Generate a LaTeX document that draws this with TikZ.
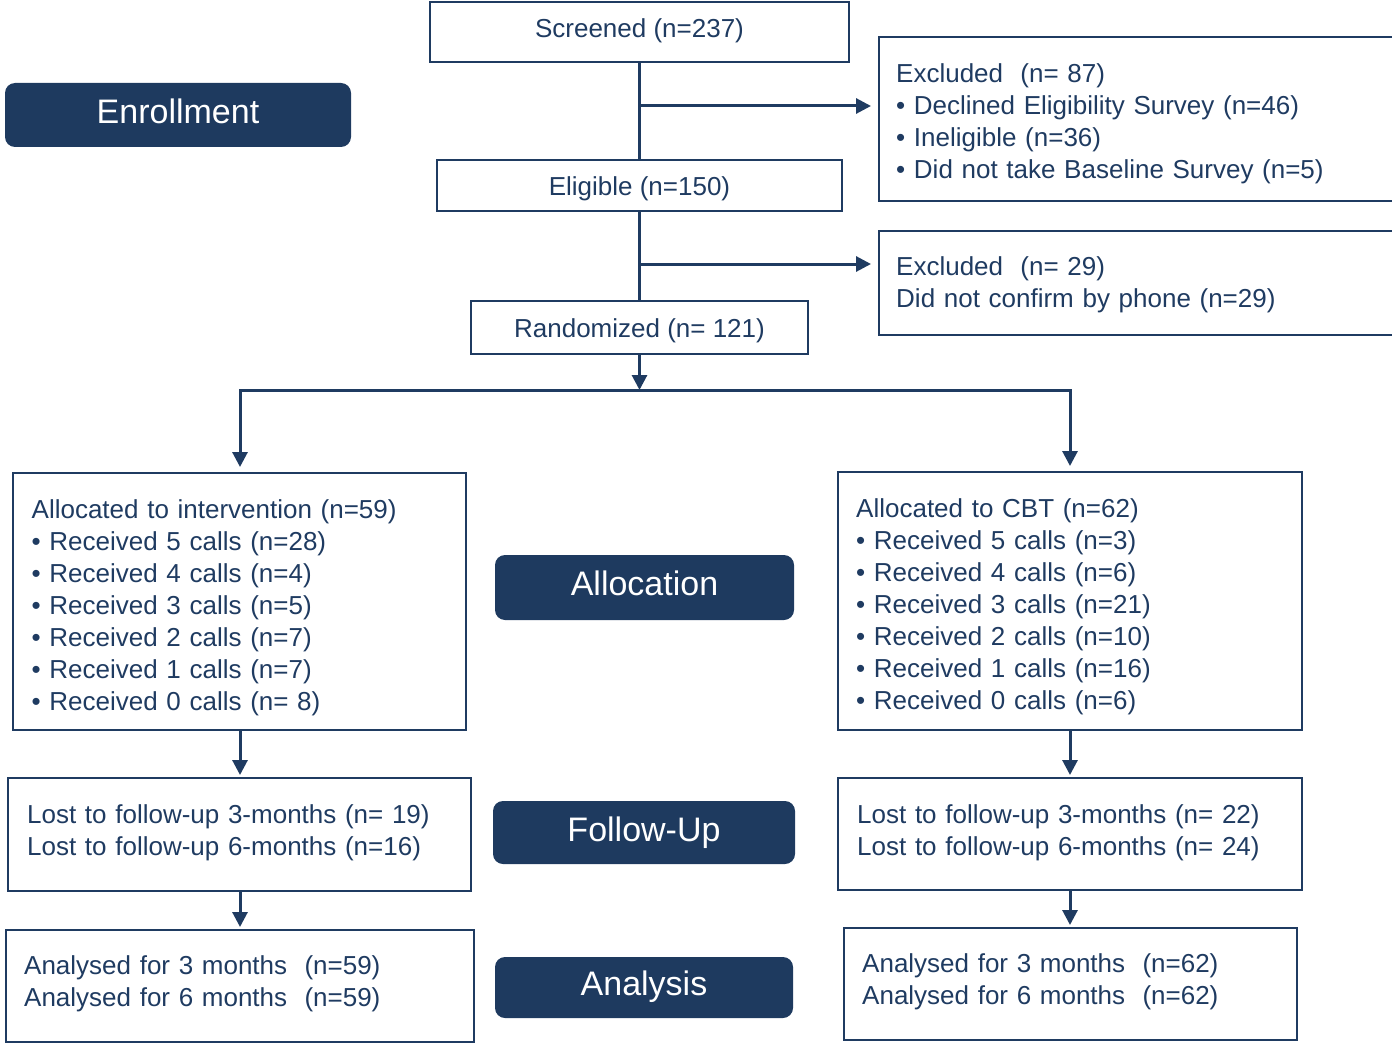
\documentclass[tikz,border=0pt]{standalone}
\usepackage{fontspec}
\setmainfont{Liberation Sans}
\usetikzlibrary{arrows.meta}
\definecolor{navy}{HTML}{1F3B61}
\definecolor{phasefill}{HTML}{1E3A5F}
\begin{document}
\begin{tikzpicture}[x=1pt,y=-1pt,
  frame/.style={draw=navy,line width=2pt,inner sep=0pt},
  txt/.style={text=navy,font=\fontsize{26}{32}\selectfont,align=left,inner sep=0pt},
  ltxt/.style={txt,anchor=west,text width=480pt},
  phase/.style={fill=phasefill,draw=none,rounded corners=10pt,text=white,
    font=\fontsize{34}{40}\selectfont,inner sep=0pt},
  ln/.style={draw=navy,line width=3pt},
  tip/.tip={Triangle[length=15pt,width=15pt]},
  arr/.style={ln,-tip},
]
\useasboundingbox (0,0) rectangle (1392,1043);

% phase labels
\node[phase,minimum width=346pt,minimum height=64pt] (enr) at (178,115)
  {\raisebox{3.5pt}[\height][\depth]{Enrollment}};
\node[phase,minimum width=299pt,minimum height=65pt] (alp) at (644.5,587.5)
  {\raisebox{3.8pt}[\height][\depth]{Allocation}};
\node[phase,minimum width=302pt,minimum height=63pt] (fup) at (644,832.5) {Follow-Up};
\node[phase,minimum width=298pt,minimum height=61pt] (anp) at (644,987.5)
  {\raisebox{1pt}[\height][\depth]{Analysis}};

% enrollment column
\node[frame,minimum width=419pt,minimum height=60pt] (scr) at (639.5,32) {};
\node[txt,yshift=1pt] (scr-t) at (scr.center) {Screened (n=237)};
\node[frame,minimum width=405pt,minimum height=51pt] (elig) at (639.5,185.5) {};
\node[txt,yshift=-3pt] (elig-t) at (elig.center) {Eligible (n=150)};
\node[frame,minimum width=337pt,minimum height=53pt] (rand) at (639.5,327.5) {};
\node[txt,yshift=-3.5pt] (rand-t) at (rand.center) {Randomized (n=~121)};

\node[frame,minimum width=540pt,minimum height=164pt] (exa) at (1149,119) {};
\node[ltxt,xshift=18pt,yshift=-4.5pt] (exa-t) at (exa.west)
  {Excluded\ \ (n=~87)\\
   • Declined Eligibility Survey (n=46)\\
   • Ineligible (n=36)\\
   • Did not take Baseline Survey (n=5)};
\node[frame,minimum width=540pt,minimum height=104pt] (exb) at (1149,283) {};
\node[ltxt,xshift=18pt,yshift=-2pt] (exb-t) at (exb.west)
  {Excluded\ \ (n=~29)\\
   Did not confirm by phone (n=29)};

% allocation
\node[frame,minimum width=453pt,minimum height=257pt] (allL) at (239.5,601.5) {};
\node[ltxt,xshift=19.5pt,yshift=-6pt] (allL-t) at (allL.west)
  {Allocated to intervention (n=59)\\
   • Received 5 calls (n=28)\\
   • Received 4 calls (n=4)\\
   • Received 3 calls (n=5)\\
   • Received 2 calls (n=7)\\
   • Received 1 calls (n=7)\\
   • Received 0 calls (n=~8)};
\node[frame,minimum width=464pt,minimum height=258pt] (allR) at (1070,601) {};
\node[ltxt,xshift=19pt,yshift=-5.5pt] (allR-t) at (allR.west)
  {Allocated to CBT (n=62)\\
   • Received 5 calls (n=3)\\
   • Received 4 calls (n=6)\\
   • Received 3 calls (n=21)\\
   • Received 2 calls (n=10)\\
   • Received 1 calls (n=16)\\
   • Received 0 calls (n=6)};

% follow-up
\node[frame,minimum width=463pt,minimum height=113pt] (lostL) at (239.5,834.5) {};
\node[ltxt,xshift=20pt,yshift=2pt] (lostL-t) at (lostL.west)
  {Lost to follow-up 3-months (n=~19)\\
   Lost to follow-up 6-months (n=16)};
\node[frame,minimum width=464pt,minimum height=112pt] (lostR) at (1070,834) {};
\node[ltxt,xshift=20pt,yshift=1.5pt] (lostR-t) at (lostR.west)
  {Lost to follow-up 3-months (n=~22)\\
   Lost to follow-up 6-months (n=~24)};

% analysis
\node[frame,minimum width=468pt,minimum height=112pt] (anL) at (240,986) {};
\node[ltxt,xshift=19pt,yshift=2pt] (anL-t) at (anL.west)
  {Analysed for 3 months\ \ (n=59)\\
   Analysed for 6 months\ \ (n=59)};
\node[frame,minimum width=453pt,minimum height=112pt] (anR) at (1070.5,984) {};
\node[ltxt,xshift=19pt,yshift=2.5pt] (anR-t) at (anR.west)
  {Analysed for 3 months\ \ (n=62)\\
   Analysed for 6 months\ \ (n=62)};

% connectors
\draw[ln] (scr.south) -- (elig.north);
\draw[ln] (elig.south) -- (rand.north);
\coordinate (b1) at (639.5,106);
\coordinate (b2) at (639.5,264);
\draw[arr,shorten >=7pt] (b1) -- (b1 -| exa.west);
\draw[arr,shorten >=7pt] (b2) -- (b2 -| exb.west);

\coordinate (split) at (639.5,390);
\draw[arr] (rand.south) -- (split);
\draw[ln,tip-tip,shorten <=5pt,shorten >=5pt]
  (allL.north -| 240,0) |- (split) -| (allR.north);

\draw[arr,shorten >=2pt] (allL.south -| 240,0) -- (lostL.north -| 240,0);
\draw[arr,shorten >=2pt] (allR.south) -- (lostR.north);
\draw[arr,shorten >=2pt] (lostL.south -| 240,0) -- (anL.north);
\draw[arr,shorten >=2pt] (lostR.south) -- (lostR.south |- anR.north);
\end{tikzpicture}
\end{document}
